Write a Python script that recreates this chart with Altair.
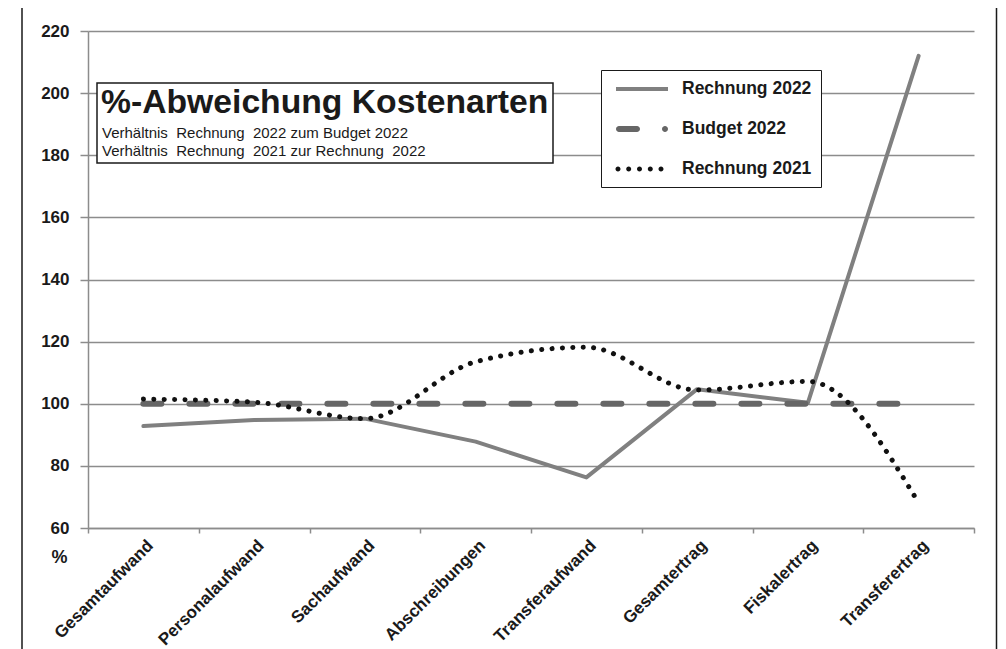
import altair as alt
import pandas as pd

kategorien = ["Gesamtaufwand", "Personalaufwand", "Sachaufwand", "Abschreibungen",
              "Transferaufwand", "Gesamtertrag", "Fiskalertrag", "Transferertrag"]
rechnung_2022 = [92.8, 94.8, 95.2, 87.8, 76.3, 104.7, 100.3, 212.0]
budget_2022 = [100, 100, 100, 100, 100, 100, 100, 100]
rechnung_2021 = [101.5, 100.5, 95.2, 113.5, 118.2, 104.4, 107.2, 68.1]
serien = ["Rechnung 2022", "Budget 2022", "Rechnung 2021"]
farben = ["#808080", "#666666", "#111111"]
y_ticks = [60, 80, 100, 120, 140, 160, 180, 200, 220]

titel = "%-Abweichung Kostenarten"
untertitel_1 = "Verhältnis\u00a0 Rechnung\u00a0 2022 zum Budget 2022"
untertitel_2 = "Verhältnis\u00a0 Rechnung\u00a0 2021 zur Rechnung\u00a0 2022"

rows = []
for s, vals in zip(serien, [rechnung_2022, budget_2022, rechnung_2021]):
    for k, v in zip(kategorien, vals):
        rows.append({"Kategorie": k, "Serie": s, "Wert": v})
df = pd.DataFrame(rows)

FONT = "Liberation Sans"
GRID = "#8c8c8c"


def dot(c, r):
    return f"M{c - r},0A{r},{r} 0 1 0 {c + r},0A{r},{r} 0 1 0 {c - r},0Z"


# legend symbol shapes (units of 10 px, symbol size 400)
sym_solid = "M-2.6,-0.2L2.6,-0.2L2.6,0.2L-2.6,0.2Z"
sym_dash = ("M-2.3,-0.3L-0.5,-0.3A0.3,0.3 0 0 1 -0.5,0.3L-2.3,0.3A0.3,0.3 0 0 1 -2.3,-0.3Z"
            + dot(2.3, 0.3))
sym_dot = "".join(dot(c, 0.25) for c in [-2.4, -1.33, -0.25, 0.83, 1.9])

legend = alt.Legend(
    orient="none", legendX=513, legendY=39, title=None,
    symbolSize=400, symbolStrokeWidth=0, symbolOpacity=1, symbolOffset=22,
    labelFontSize=17.5, labelFontWeight="bold", labelFont=FONT, labelColor="#1a1a1a",
    padding=9, rowPadding=21, labelOffset=30,
    strokeColor="#1a1a1a", fillColor="white",
)

x_enc = alt.X(
    "Kategorie:N", sort=kategorien, bandPosition=0.5,
    scale=alt.Scale(type="band", paddingInner=0, paddingOuter=0),
    axis=alt.Axis(
        title=None, labelAngle=-45, labelAlign="right", labelBaseline="top",
        labelFontSize=17, labelFontWeight="bold", labelFont=FONT, labelColor="#1a1a1a",
        tickBand="extent", tickSize=5, tickColor=GRID, tickWidth=1.5,
        domainColor=GRID, domainWidth=1.5, grid=False, labelPadding=4, labelOffset=1,
        labelLimit=0,
    ),
)
y_enc = alt.Y(
    "Wert:Q",
    scale=alt.Scale(domain=[60, 220], nice=False, zero=False),
    axis=alt.Axis(
        values=y_ticks, title="%", titleAngle=0, titleX=-29, titleY=526,
        titleAlign="center", titleBaseline="middle", titleFontSize=18,
        titleFontWeight="bold", titleFont=FONT, titleColor="#1a1a1a",
        labelFontSize=17, labelFontWeight="bold", labelFont=FONT, labelColor="#1a1a1a",
        tickSize=8, tickColor=GRID, tickWidth=1.5, labelPadding=11,
        domainColor=GRID, domainWidth=1.5,
        grid=True, gridColor=GRID, gridWidth=1.5,
    ),
)

base = alt.Chart(df).encode(x=x_enc, y=y_enc)

l1 = base.transform_filter(alt.datum.Serie == serien[0]).mark_line(
    color=farben[0], strokeWidth=4, strokeCap="round", strokeJoin="round")
l2 = base.transform_filter(alt.datum.Serie == serien[1]).mark_line(
    color=farben[1], strokeWidth=6, strokeCap="round", strokeDash=[18, 28])
l3 = base.transform_filter(alt.datum.Serie == serien[2]).mark_line(
    color=farben[2], strokeWidth=5, strokeCap="round", strokeDash=[0.1, 10.3],
    interpolate="monotone")

legend_layer = base.transform_filter("false").mark_point(
    filled=True, size=400, opacity=1).encode(
    color=alt.Color("Serie:N", sort=serien,
                    scale=alt.Scale(domain=serien, range=farben), legend=legend),
    shape=alt.Shape("Serie:N", sort=serien,
                    scale=alt.Scale(domain=serien, range=[sym_solid, sym_dash, sym_dot]),
                    legend=legend),
)

one = alt.Data(values=[{}])

frame = alt.Chart(one).mark_rect(fill="transparent", stroke="#1a1a1a", strokeWidth=1.5).encode(
    x=alt.value(-66), x2=alt.value(908.5), y=alt.value(-25), y2=alt.value(700))

title_box = alt.Chart(one).mark_rect(fill="white", stroke="#1a1a1a", strokeWidth=1.5).encode(
    x=alt.value(9), x2=alt.value(465), y=alt.value(52), y2=alt.value(132))

t_main = alt.Chart(one).mark_text(
    align="left", baseline="alphabetic", font=FONT, fontSize=33.7, fontWeight="bold",
    color="#1a1a1a").encode(x=alt.value(13), y=alt.value(82), text=alt.value(titel))
t_sub1 = alt.Chart(one).mark_text(
    align="left", baseline="alphabetic", font=FONT, fontSize=15, color="#1a1a1a").encode(
    x=alt.value(14), y=alt.value(107), text=alt.value(untertitel_1))
t_sub2 = alt.Chart(one).mark_text(
    align="left", baseline="alphabetic", font=FONT, fontSize=15, color="#1a1a1a").encode(
    x=alt.value(14), y=alt.value(125), text=alt.value(untertitel_2))

chart = alt.layer(l1, l2, l3, legend_layer, title_box, t_main, t_sub1, t_sub2, frame).properties(
    width=886, height=497,
    autosize=alt.AutoSizeParams(type="none"),
    padding={"left": 80, "top": 23, "right": 24, "bottom": 121},
    background="white",
).configure_view(stroke=None)

chart.save("out.html", embed_options={"renderer": "svg", "actions": False})
